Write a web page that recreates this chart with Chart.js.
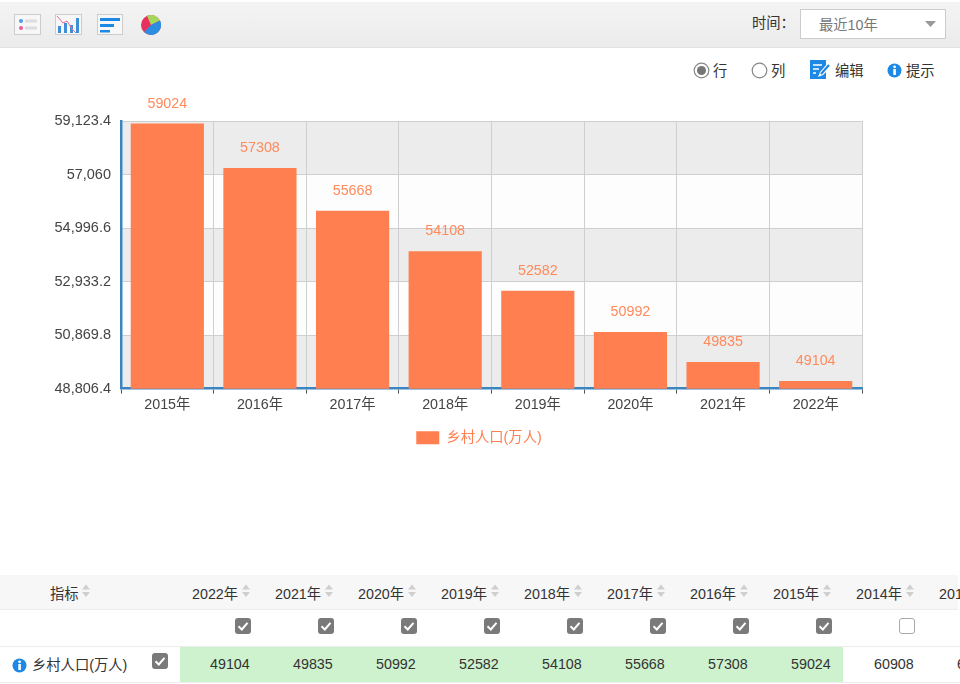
<!DOCTYPE html>
<html lang="zh">
<head>
<meta charset="utf-8">
<script src="https://cdn.jsdelivr.net/npm/chart.js@4/dist/chart.umd.min.js"></script>
<style>
html,body{margin:0;padding:0;background:#fff;width:960px;height:684px;overflow:hidden;font-family:"Liberation Sans","Noto Sans CJK SC",sans-serif;color:#333;font-size:14.3px}
.a{position:absolute;white-space:nowrap}
#bar{position:absolute;left:0;top:2px;width:960px;height:46px;background:linear-gradient(#f4f4f4,#ebebeb);border-bottom:1px solid #e2e2e2;box-sizing:border-box}
#wrap{position:absolute;left:0;top:48px;width:960px;height:407px}
#hdr{position:absolute;left:0;top:575px;width:958px;height:35px;background:#f7f7f7;border-bottom:1px solid #ececec;box-sizing:border-box}
#rowline{position:absolute;left:0;top:646px;width:960px;height:1px;background:#ececec}
#rowline2{position:absolute;left:0;top:682px;width:960px;height:1px;background:#ececec}
#green{position:absolute;left:180px;top:647px;width:663px;height:35px;background:#cdf2cd}
.cb{position:absolute;width:16px;height:16px;border-radius:3px;background:#7a7a7a;box-sizing:border-box}
.cb svg{position:absolute;left:0;top:0}
.cb.off{background:#fff;border:1.5px solid #aaa}
.sort{position:absolute;width:10px;height:14px}
</style>
</head>
<body>
<div id="bar"></div>
<svg class="a" style="left:14px;top:14px" width="28" height="22"><rect x=".5" y=".5" width="26" height="20" fill="#f7f7f7" stroke="#ccc"/><circle cx="7" cy="7" r="2" fill="#4a9be8"/><circle cx="7" cy="14" r="2" fill="#ee5c9c"/><rect x="11" y="5.5" width="12" height="3" fill="#ddd"/><rect x="11" y="12.5" width="12" height="3" fill="#ddd"/></svg>
<svg class="a" style="left:55px;top:14px" width="28" height="22"><rect x=".5" y=".5" width="26" height="20" fill="#f7f7f7" stroke="#ccc"/><rect x="3" y="12" width="3" height="7" fill="#3f8fd8"/><rect x="9" y="9" width="3" height="10" fill="#3f8fd8"/><rect x="15" y="11" width="3" height="8" fill="#3f8fd8"/><rect x="21" y="4" width="3" height="15" fill="#3f8fd8"/><path d="M2 2L8 9L12 7L17 15L21 19" fill="none" stroke="#ee6a90" stroke-width="1"/></svg>
<svg class="a" style="left:97px;top:14px" width="28" height="22"><rect x=".5" y=".5" width="25" height="20" fill="#f7f7f7" stroke="#ccc"/><rect x="3" y="4" width="20" height="3" fill="#1e88e5"/><rect x="3" y="10" width="14" height="3" fill="#1e88e5"/><rect x="3" y="16" width="10" height="2.5" fill="#1e88e5"/></svg>
<svg class="a" style="left:140px;top:14px" width="22" height="22"><circle cx="11" cy="11" r="10" fill="#e8305f"/><path d="M11 11L7 1.8A10 10 0 0 1 20 6.5Z" fill="#a6d65a"/><path d="M11 11L20 6.5A10 10 0 0 1 11 21A10 10 0 0 1 4 18Z" fill="#2a8de0"/></svg>
<div class="a" style="left:752px;top:11px;color:#333">时间：</div>
<div class="a" style="left:800px;top:9px;width:146px;height:30px;background:#fff;border:1px solid #ccc;box-sizing:border-box"></div>
<div class="a" style="left:819px;top:13px;color:#777">最近10年</div>
<svg class="a" style="left:925px;top:21px" width="12" height="8"><path d="M0 0H11L5.5 6Z" fill="#999"/></svg>

<svg class="a" style="left:693px;top:62px" width="17" height="17"><circle cx="8.5" cy="8.5" r="7.3" fill="#fff" stroke="#888" stroke-width="1.2"/><circle cx="8.5" cy="8.5" r="4.5" fill="#777"/></svg>
<div class="a" style="left:713px;top:59px">行</div>
<svg class="a" style="left:751px;top:62px" width="17" height="17"><circle cx="8.5" cy="8.5" r="7.3" fill="#fff" stroke="#888" stroke-width="1.2"/></svg>
<div class="a" style="left:771px;top:59px">列</div>
<svg class="a" style="left:809px;top:59px" width="22" height="21"><path d="M1 1H17V6L11 13L9 18L14 16L17 13V20H1Z" fill="#1e88e5"/><path d="M4 6H13M4 10H10M4 14H7" stroke="#fff" stroke-width="1.4"/><path d="M12 15L20 6" stroke="#1e88e5" stroke-width="2.2"/></svg>
<div class="a" style="left:835px;top:59px">编辑</div>
<svg class="a" style="left:887px;top:63px" width="15" height="15"><circle cx="7.5" cy="7.5" r="7" fill="#1e88e5"/><rect x="6.3" y="6" width="2.6" height="6" fill="#fff"/><circle cx="7.6" cy="3.8" r="1.4" fill="#fff"/></svg>
<div class="a" style="left:906px;top:59px">提示</div>

<div id="wrap"><canvas id="c" width="960" height="407"></canvas></div>

<div id="hdr"></div>
<div id="green"></div>
<div id="rowline"></div>
<div id="rowline2"></div>
<div id="table"></div>

<script>
const categories = ["2015年","2016年","2017年","2018年","2019年","2020年","2021年","2022年"];
const seriesValues = [59024,57308,55668,54108,52582,50992,49835,49104];
const seriesName = "乡村人口(万人)";
const yTicks = [48806.4,50869.8,52933.2,54996.6,57060,59123.4];
const tableYears = ["2022年","2021年","2020年","2019年","2018年","2017年","2016年","2015年","2014年","2013年"];
const tableValues = [49104,49835,50992,52582,54108,55668,57308,59024,60908,62224];
const tableChecked = [true,true,true,true,true,true,true,true,false,true];
const indicatorHeader = "指标";

const FONT = '"Liberation Sans","Noto Sans CJK SC",sans-serif';
const ORANGE = "#ff7f50";

const bands = {
  id:"bands",
  afterLayout(chart){
    chart.legend.left += 48;
    chart.legend.right += 48;
  },
  beforeDraw(chart){
    const {ctx,chartArea:a,scales:{y}} = chart;
    ctx.save();
    for(let i=0;i<yTicks.length-1;i++){
      const t=y.getPixelForValue(yTicks[i+1]), b=y.getPixelForValue(yTicks[i]);
      ctx.fillStyle = i%2===0 ? "#ececec" : "#fdfdfd";
      ctx.fillRect(a.left,t,a.right-a.left,b-t);
    }
    ctx.restore();
  }
};
const valueLabels = {
  id:"valueLabels",
  afterDatasetsDraw(chart){
    const {ctx} = chart;
    const meta = chart.getDatasetMeta(0);
    ctx.save();
    ctx.font = "14.3px "+FONT;
    ctx.fillStyle = "#ff8a5c";
    ctx.textAlign = "center";
    ctx.textBaseline = "middle";
    meta.data.forEach((bar,i)=>ctx.fillText(String(seriesValues[i]),bar.x,bar.y-20));
    ctx.restore();
  }
};

new Chart(document.getElementById("c"),{
  type:"bar",
  data:{labels:categories,datasets:[{label:seriesName,data:seriesValues,backgroundColor:ORANGE,borderWidth:0,barPercentage:0.79,categoryPercentage:1}]},
  plugins:[bands,valueLabels],
  options:{
    responsive:false,animation:false,
    layout:{padding:{left:0,right:98,top:73,bottom:0}},
    plugins:{
      tooltip:{enabled:false},
      legend:{position:"bottom",align:"center",
        labels:{boxWidth:23,boxHeight:13,padding:10,color:ORANGE,font:{family:FONT,size:14.3}}
      }
    },
    scales:{
      x:{
        afterFit(s){s.height=32;},
        grid:{color:"#cfcfcf",lineWidth:1,tickLength:5,tickColor:"#555",drawOnChartArea:true},
        border:{color:"#3d85c0",width:2.5},
        ticks:{color:"#444",font:{family:FONT,size:14.3},padding:3,maxRotation:0}
      },
      y:{
        min:48806.4,max:59123.4,
        afterBuildTicks(s){s.ticks=yTicks.map(v=>({value:v}));},
        afterFit(s){s.width=121;},
        grid:{color:"#cfcfcf",lineWidth:1,drawTicks:false},
        border:{color:"#3d85c0",width:2.5},
        ticks:{color:"#444",font:{family:FONT,size:14.5},padding:10,
          callback:v=>Number(v).toLocaleString("en-US",{maximumFractionDigits:1})}
      }
    }
  }
});

const CHECK='<svg width="16" height="16"><path d="M3.5 8.3L6.8 11.5L12.5 4.8" fill="none" stroke="#fff" stroke-width="2"/></svg>';
const SORT='<svg width="10" height="14"><path d="M5 0.5L9 5.5H1Z M5 13L1 8H9Z" fill="#cfcfcf"/></svg>';
const t=document.getElementById("table");
function add(cls,style,html){const d=document.createElement("div");d.className=cls;d.style.cssText=style;d.innerHTML=html;t.appendChild(d);}
add("a","left:50px;top:582px;color:#333",indicatorHeader);
add("sort","left:81px;top:584px",SORT);
tableYears.forEach((yr,i)=>{
  const x=83*i;
  add("a",`left:${192+x}px;top:582px;color:#333`,yr);
  add("sort",`left:${241+x}px;top:584px`,SORT);
  add("cb"+(tableChecked[i]?"":" off"),`left:${235+x}px;top:618px`,tableChecked[i]?CHECK:"");
  add("a",`left:${210+x}px;top:656px;color:#333`,tableValues[i]);
});
add("a","left:12px;top:658px",'<svg width="15" height="15" style="display:block"><circle cx="7.5" cy="7.5" r="7" fill="#1e88e5"/><rect x="6.3" y="6" width="2.6" height="6" fill="#fff"/><circle cx="7.6" cy="3.8" r="1.4" fill="#fff"/></svg>');
add("a","left:32px;top:653px;color:#333",seriesName);
add("cb","left:152px;top:653px",CHECK);
</script>
</body>
</html>
